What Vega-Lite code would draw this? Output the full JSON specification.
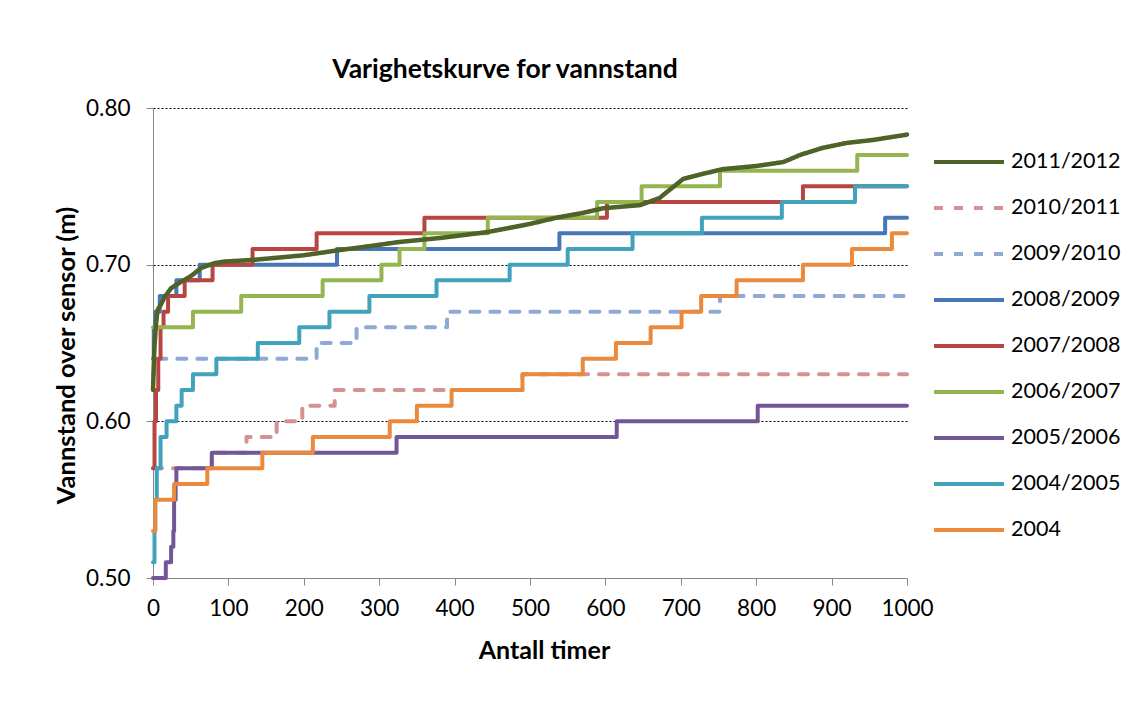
{
  "$schema": "https://vega.github.io/schema/vega-lite/v6.json",
  "width": 754,
  "height": 470,
  "autosize": {"type": "none"},
  "padding": {"left": 153, "top": 108, "right": 226, "bottom": 135},
  "background": "white",
  "config": {
    "font": "Lato",
    "view": {"stroke": null},
    "legend": {
      "orient": "none",
      "legendX": 779,
      "legendY": 44,
      "padding": 0,
      "clipHeight": 20,
      "rowPadding": 24,
      "symbolType": "stroke",
      "symbolSize": 4900,
      "symbolStrokeWidth": 4,
      "labelFontSize": 21.5,
      "labelColor": "#000000",
      "labelOffset": 5
    }
  },
  "title": {
    "text": "Varighetskurve for vannstand",
    "fontSize": 26.5,
    "fontWeight": "bold",
    "color": "#000000",
    "anchor": "middle",
    "dx": -25,
    "offset": 14
  },
  "data": {
    "values": [
      {"serie": "2010/2011", "timer": 0, "vannstand": 0.57},
      {"serie": "2010/2011", "timer": 78, "vannstand": 0.58},
      {"serie": "2010/2011", "timer": 124, "vannstand": 0.59},
      {"serie": "2010/2011", "timer": 164, "vannstand": 0.60},
      {"serie": "2010/2011", "timer": 198, "vannstand": 0.61},
      {"serie": "2010/2011", "timer": 241, "vannstand": 0.62},
      {"serie": "2010/2011", "timer": 490, "vannstand": 0.63},
      {"serie": "2010/2011", "timer": 1000, "vannstand": 0.63},

      {"serie": "2009/2010", "timer": 0, "vannstand": 0.63},
      {"serie": "2009/2010", "timer": 1, "vannstand": 0.64},
      {"serie": "2009/2010", "timer": 217, "vannstand": 0.65},
      {"serie": "2009/2010", "timer": 270, "vannstand": 0.66},
      {"serie": "2009/2010", "timer": 390, "vannstand": 0.67},
      {"serie": "2009/2010", "timer": 752, "vannstand": 0.68},
      {"serie": "2009/2010", "timer": 1000, "vannstand": 0.68},

      {"serie": "2008/2009", "timer": 0, "vannstand": 0.64},
      {"serie": "2008/2009", "timer": 1, "vannstand": 0.66},
      {"serie": "2008/2009", "timer": 3, "vannstand": 0.67},
      {"serie": "2008/2009", "timer": 9, "vannstand": 0.68},
      {"serie": "2008/2009", "timer": 31, "vannstand": 0.69},
      {"serie": "2008/2009", "timer": 62, "vannstand": 0.70},
      {"serie": "2008/2009", "timer": 244, "vannstand": 0.71},
      {"serie": "2008/2009", "timer": 539, "vannstand": 0.72},
      {"serie": "2008/2009", "timer": 971, "vannstand": 0.73},
      {"serie": "2008/2009", "timer": 1000, "vannstand": 0.73},

      {"serie": "2007/2008", "timer": 0, "vannstand": 0.57},
      {"serie": "2007/2008", "timer": 2, "vannstand": 0.60},
      {"serie": "2007/2008", "timer": 4, "vannstand": 0.62},
      {"serie": "2007/2008", "timer": 7, "vannstand": 0.64},
      {"serie": "2007/2008", "timer": 10, "vannstand": 0.66},
      {"serie": "2007/2008", "timer": 14, "vannstand": 0.67},
      {"serie": "2007/2008", "timer": 20, "vannstand": 0.68},
      {"serie": "2007/2008", "timer": 42, "vannstand": 0.69},
      {"serie": "2007/2008", "timer": 79, "vannstand": 0.70},
      {"serie": "2007/2008", "timer": 132, "vannstand": 0.71},
      {"serie": "2007/2008", "timer": 217, "vannstand": 0.72},
      {"serie": "2007/2008", "timer": 360, "vannstand": 0.73},
      {"serie": "2007/2008", "timer": 602, "vannstand": 0.74},
      {"serie": "2007/2008", "timer": 862, "vannstand": 0.75},
      {"serie": "2007/2008", "timer": 1000, "vannstand": 0.75},

      {"serie": "2006/2007", "timer": 0, "vannstand": 0.66},
      {"serie": "2006/2007", "timer": 53, "vannstand": 0.67},
      {"serie": "2006/2007", "timer": 117, "vannstand": 0.68},
      {"serie": "2006/2007", "timer": 225, "vannstand": 0.69},
      {"serie": "2006/2007", "timer": 303, "vannstand": 0.70},
      {"serie": "2006/2007", "timer": 327, "vannstand": 0.71},
      {"serie": "2006/2007", "timer": 360, "vannstand": 0.72},
      {"serie": "2006/2007", "timer": 444, "vannstand": 0.73},
      {"serie": "2006/2007", "timer": 589, "vannstand": 0.74},
      {"serie": "2006/2007", "timer": 648, "vannstand": 0.75},
      {"serie": "2006/2007", "timer": 752, "vannstand": 0.76},
      {"serie": "2006/2007", "timer": 934, "vannstand": 0.77},
      {"serie": "2006/2007", "timer": 1000, "vannstand": 0.77},

      {"serie": "2005/2006", "timer": 0, "vannstand": 0.50},
      {"serie": "2005/2006", "timer": 17, "vannstand": 0.51},
      {"serie": "2005/2006", "timer": 24, "vannstand": 0.52},
      {"serie": "2005/2006", "timer": 27, "vannstand": 0.53},
      {"serie": "2005/2006", "timer": 28, "vannstand": 0.55},
      {"serie": "2005/2006", "timer": 30, "vannstand": 0.56},
      {"serie": "2005/2006", "timer": 31, "vannstand": 0.57},
      {"serie": "2005/2006", "timer": 78, "vannstand": 0.58},
      {"serie": "2005/2006", "timer": 323, "vannstand": 0.59},
      {"serie": "2005/2006", "timer": 615, "vannstand": 0.60},
      {"serie": "2005/2006", "timer": 802, "vannstand": 0.61},
      {"serie": "2005/2006", "timer": 1000, "vannstand": 0.61},

      {"serie": "2004/2005", "timer": 0, "vannstand": 0.51},
      {"serie": "2004/2005", "timer": 2, "vannstand": 0.53},
      {"serie": "2004/2005", "timer": 3, "vannstand": 0.55},
      {"serie": "2004/2005", "timer": 5, "vannstand": 0.57},
      {"serie": "2004/2005", "timer": 10, "vannstand": 0.59},
      {"serie": "2004/2005", "timer": 18, "vannstand": 0.60},
      {"serie": "2004/2005", "timer": 31, "vannstand": 0.61},
      {"serie": "2004/2005", "timer": 38, "vannstand": 0.62},
      {"serie": "2004/2005", "timer": 53, "vannstand": 0.63},
      {"serie": "2004/2005", "timer": 84, "vannstand": 0.64},
      {"serie": "2004/2005", "timer": 139, "vannstand": 0.65},
      {"serie": "2004/2005", "timer": 194, "vannstand": 0.66},
      {"serie": "2004/2005", "timer": 234, "vannstand": 0.67},
      {"serie": "2004/2005", "timer": 287, "vannstand": 0.68},
      {"serie": "2004/2005", "timer": 376, "vannstand": 0.69},
      {"serie": "2004/2005", "timer": 473, "vannstand": 0.70},
      {"serie": "2004/2005", "timer": 550, "vannstand": 0.71},
      {"serie": "2004/2005", "timer": 636, "vannstand": 0.72},
      {"serie": "2004/2005", "timer": 728, "vannstand": 0.73},
      {"serie": "2004/2005", "timer": 834, "vannstand": 0.74},
      {"serie": "2004/2005", "timer": 931, "vannstand": 0.75},
      {"serie": "2004/2005", "timer": 1000, "vannstand": 0.75},

      {"serie": "2004", "timer": 0, "vannstand": 0.53},
      {"serie": "2004", "timer": 3, "vannstand": 0.55},
      {"serie": "2004", "timer": 28, "vannstand": 0.56},
      {"serie": "2004", "timer": 72, "vannstand": 0.57},
      {"serie": "2004", "timer": 145, "vannstand": 0.58},
      {"serie": "2004", "timer": 212, "vannstand": 0.59},
      {"serie": "2004", "timer": 314, "vannstand": 0.60},
      {"serie": "2004", "timer": 350, "vannstand": 0.61},
      {"serie": "2004", "timer": 396, "vannstand": 0.62},
      {"serie": "2004", "timer": 490, "vannstand": 0.63},
      {"serie": "2004", "timer": 570, "vannstand": 0.64},
      {"serie": "2004", "timer": 614, "vannstand": 0.65},
      {"serie": "2004", "timer": 660, "vannstand": 0.66},
      {"serie": "2004", "timer": 701, "vannstand": 0.67},
      {"serie": "2004", "timer": 727, "vannstand": 0.68},
      {"serie": "2004", "timer": 774, "vannstand": 0.69},
      {"serie": "2004", "timer": 862, "vannstand": 0.70},
      {"serie": "2004", "timer": 927, "vannstand": 0.71},
      {"serie": "2004", "timer": 980, "vannstand": 0.72},
      {"serie": "2004", "timer": 1000, "vannstand": 0.72},

      {"serie": "2011/2012", "timer": 0, "vannstand": 0.620},
      {"serie": "2011/2012", "timer": 1, "vannstand": 0.635},
      {"serie": "2011/2012", "timer": 2, "vannstand": 0.648},
      {"serie": "2011/2012", "timer": 4, "vannstand": 0.662},
      {"serie": "2011/2012", "timer": 6, "vannstand": 0.671},
      {"serie": "2011/2012", "timer": 11, "vannstand": 0.675},
      {"serie": "2011/2012", "timer": 15, "vannstand": 0.679},
      {"serie": "2011/2012", "timer": 24, "vannstand": 0.685},
      {"serie": "2011/2012", "timer": 37, "vannstand": 0.689},
      {"serie": "2011/2012", "timer": 51, "vannstand": 0.693},
      {"serie": "2011/2012", "timer": 64, "vannstand": 0.698},
      {"serie": "2011/2012", "timer": 82, "vannstand": 0.701},
      {"serie": "2011/2012", "timer": 95, "vannstand": 0.702},
      {"serie": "2011/2012", "timer": 132, "vannstand": 0.703},
      {"serie": "2011/2012", "timer": 200, "vannstand": 0.706},
      {"serie": "2011/2012", "timer": 243, "vannstand": 0.709},
      {"serie": "2011/2012", "timer": 290, "vannstand": 0.712},
      {"serie": "2011/2012", "timer": 327, "vannstand": 0.7145},
      {"serie": "2011/2012", "timer": 380, "vannstand": 0.717},
      {"serie": "2011/2012", "timer": 446, "vannstand": 0.721},
      {"serie": "2011/2012", "timer": 500, "vannstand": 0.726},
      {"serie": "2011/2012", "timer": 535, "vannstand": 0.730},
      {"serie": "2011/2012", "timer": 570, "vannstand": 0.733},
      {"serie": "2011/2012", "timer": 597, "vannstand": 0.736},
      {"serie": "2011/2012", "timer": 646, "vannstand": 0.738},
      {"serie": "2011/2012", "timer": 672, "vannstand": 0.7426},
      {"serie": "2011/2012", "timer": 690, "vannstand": 0.7496},
      {"serie": "2011/2012", "timer": 703, "vannstand": 0.7547},
      {"serie": "2011/2012", "timer": 734, "vannstand": 0.7585},
      {"serie": "2011/2012", "timer": 756, "vannstand": 0.761},
      {"serie": "2011/2012", "timer": 801, "vannstand": 0.763},
      {"serie": "2011/2012", "timer": 836, "vannstand": 0.7655},
      {"serie": "2011/2012", "timer": 858, "vannstand": 0.770},
      {"serie": "2011/2012", "timer": 888, "vannstand": 0.7745},
      {"serie": "2011/2012", "timer": 920, "vannstand": 0.7777},
      {"serie": "2011/2012", "timer": 955, "vannstand": 0.7796},
      {"serie": "2011/2012", "timer": 1000, "vannstand": 0.783}
    ]
  },
  "encoding": {
    "x": {
      "field": "timer",
      "type": "quantitative",
      "scale": {"domain": [0, 1000], "nice": false},
      "axis": {
        "values": [0, 100, 200, 300, 400, 500, 600, 700, 800, 900, 1000],
        "format": "d",
        "grid": false,
        "labelFlush": false,
        "labelOverlap": false,
        "domainColor": "#868686",
        "tickColor": "#868686",
        "tickSize": 7,
        "labelFontSize": 22.5,
        "labelColor": "#000000",
        "labelPadding": 12,
        "title": "Antall timer",
        "titleFontSize": 25,
        "titleFontWeight": "bold",
        "titleColor": "#000000",
        "titleX": 391,
        "titleY": 72,
        "titleBaseline": "middle",
        "titleAlign": "center"
      }
    },
    "y": {
      "field": "vannstand",
      "type": "quantitative",
      "scale": {"domain": [0.5, 0.8], "nice": false, "zero": false},
      "axis": {
        "values": [0.5, 0.6, 0.7, 0.8],
        "format": ".2f",
        "grid": true,
        "labelFlush": false,
        "gridColor": "#000000",
        "gridDash": [2, 2],
        "gridWidth": 1,
        "gridOpacity": {"condition": {"test": "datum.value <= 0.5", "value": 0}, "value": 1},
        "domainColor": "#868686",
        "tickColor": "#868686",
        "tickSize": 7,
        "labelFontSize": 22.5,
        "labelColor": "#000000",
        "labelPadding": 16,
        "title": "Vannstand  over sensor (m)",
        "titleFontSize": 25.5,
        "titleFontWeight": "bold",
        "titleColor": "#000000",
        "titleX": -87,
        "titleY": 247,
        "titleAngle": 270,
        "titleAlign": "center",
        "titleBaseline": "middle"
      }
    },
    "color": {
      "field": "serie",
      "type": "nominal",
      "scale": {
        "domain": ["2011/2012", "2010/2011", "2009/2010", "2008/2009", "2007/2008", "2006/2007", "2005/2006", "2004/2005", "2004"],
        "range": ["#4F6228", "#D59290", "#8FA9D4", "#4777B5", "#B84542", "#93B650", "#725697", "#41A2BC", "#EB8A3C"]
      },
      "legend": {"title": null}
    },
    "strokeDash": {
      "field": "serie",
      "type": "nominal",
      "scale": {
        "domain": ["2011/2012", "2010/2011", "2009/2010", "2008/2009", "2007/2008", "2006/2007", "2005/2006", "2004/2005", "2004"],
        "range": [[1, 0], [9, 11], [9, 11], [1, 0], [1, 0], [1, 0], [1, 0], [1, 0], [1, 0]]
      },
      "legend": {"title": null}
    }
  },
  "layer": [
    {
      "transform": [{"filter": "datum.serie !== '2011/2012'"}],
      "mark": {"type": "line", "interpolate": "step-after", "strokeWidth": 4, "strokeCap": "round", "strokeJoin": "round"}
    },
    {
      "transform": [{"filter": "datum.serie === '2011/2012'"}],
      "mark": {"type": "line", "strokeWidth": 4.5, "strokeCap": "round", "strokeJoin": "round"}
    }
  ]
}
